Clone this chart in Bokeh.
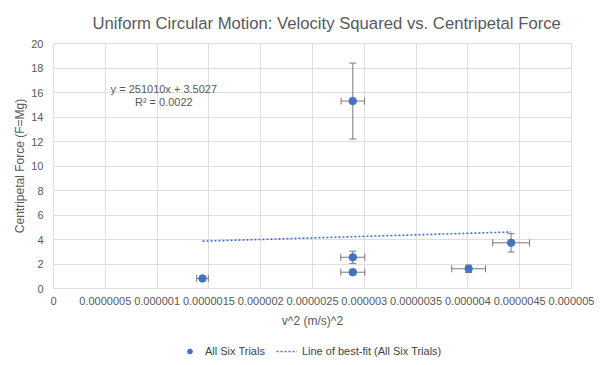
from bokeh.plotting import figure
from bokeh.layouts import column
from bokeh.models import (ColumnDataSource, Range1d, FixedTicker, CustomJSTickFormatter,
                          Whisker, TeeHead, Label, Legend, LegendItem)
from bokeh.embed import file_html
from bokeh.resources import INLINE

# ---------------- data ----------------
title_text = "Uniform Circular Motion: Velocity Squared vs. Centripetal Force"
x_label = "v^2 (m/s)^2"
y_label = "Centripetal Force (F=Mg)"

v_sq = [1.438e-6, 2.889e-6, 2.889e-6, 2.889e-6, 4.007e-6, 4.417e-6]
force = [0.82, 15.3, 2.55, 1.33, 1.61, 3.73]
v_sq_err = [0.056e-6, 0.113e-6, 0.116e-6, 0.116e-6, 0.163e-6, 0.178e-6]
force_err = [0.07, 3.1, 0.5, 0.18, 0.3, 0.75]

fit_slope = 251010
fit_intercept = 3.5027
fit_eq_text = "y = 251010x + 3.5027"
fit_r2_text = "R\u00b2 = 0.0022"

x_ticks = [0, 5e-7, 1e-6, 1.5e-6, 2e-6, 2.5e-6, 3e-6, 3.5e-6, 4e-6, 4.5e-6, 5e-6]
x_tick_labels = ["0", "0.0000005", "0.000001", "0.0000015", "0.000002", "0.0000025",
                 "0.000003", "0.0000035", "0.000004", "0.0000045", "0.000005"]
y_ticks = [0, 2, 4, 6, 8, 10, 12, 14, 16, 18, 20]

series_name = "All Six Trials"
fit_name = "Line of best-fit (All Six Trials)"

# ---------------- styling ----------------
FONT = "Liberation Sans"
TXT = "#595959"
BLUE = "#4472C4"
GRID = "#dedede"
ERR = "#7a7a7a"
DASH = "2 2"

src = ColumnDataSource(dict(
    x=v_sq, y=force,
    xl=[a - e for a, e in zip(v_sq, v_sq_err)], xu=[a + e for a, e in zip(v_sq, v_sq_err)],
    yl=[a - e for a, e in zip(force, force_err)], yu=[a + e for a, e in zip(force, force_err)],
))
x0, x1 = min(v_sq), max(v_sq)
fit_x = [x0, x1]
fit_y = [fit_slope * x0 + fit_intercept, fit_slope * x1 + fit_intercept]

p = figure(width=600, height=332, output_backend="svg", toolbar_location=None,
           x_range=Range1d(0, 5e-6), y_range=Range1d(0, 20),
           min_border_left=53, min_border_right=29, min_border_top=40, min_border_bottom=44)

p.title.text = title_text
p.title.text_font = FONT
p.title.text_font_size = "16.7px"
p.title.text_font_style = "normal"
p.title.text_color = TXT
p.title.align = "left"
p.title.offset = 39
p.title.standoff = 22

p.outline_line_color = GRID
p.background_fill_color = "white"
p.border_fill_color = "white"

for ax in (p.xaxis[0], p.yaxis[0]):
    ax.axis_line_color = None
    ax.major_tick_line_color = None
    ax.minor_tick_line_color = None
    ax.major_tick_out = 0
    ax.major_tick_in = 0
    ax.major_label_text_font = FONT
    ax.major_label_text_font_size = "11px"
    ax.major_label_text_color = TXT
    ax.axis_label_text_font = FONT
    ax.axis_label_text_font_size = "12px"
    ax.axis_label_text_font_style = "normal"
    ax.axis_label_text_color = TXT

p.xaxis[0].ticker = FixedTicker(ticks=x_ticks)
p.xaxis[0].formatter = CustomJSTickFormatter(
    args=dict(tvals=x_ticks, tlabels=x_tick_labels),
    code="""
    for (let i = 0; i < tvals.length; i++) {
        if (Math.abs(tvals[i] - tick) < 1e-12) return tlabels[i];
    }
    return "";
""")
p.xaxis[0].axis_label = x_label
p.xaxis[0].major_label_standoff = 8
p.xaxis[0].axis_label_standoff = 6

p.yaxis[0].ticker = FixedTicker(ticks=y_ticks)
p.yaxis[0].axis_label = y_label
p.yaxis[0].major_label_standoff = 10
p.yaxis[0].axis_label_standoff = 1

p.xgrid.grid_line_color = GRID
p.ygrid.grid_line_color = GRID
p.xgrid.ticker = FixedTicker(ticks=x_ticks)
p.ygrid.ticker = FixedTicker(ticks=y_ticks)

# error bars
p.add_layout(Whisker(source=src, base="x", lower="yl", upper="yu", dimension="height",
                     line_color=ERR, line_width=1,
                     lower_head=TeeHead(size=7, line_color=ERR, line_width=1),
                     upper_head=TeeHead(size=7, line_color=ERR, line_width=1)))
p.add_layout(Whisker(source=src, base="y", lower="xl", upper="xu", dimension="width",
                     line_color=ERR, line_width=1,
                     lower_head=TeeHead(size=7, line_color=ERR, line_width=1),
                     upper_head=TeeHead(size=7, line_color=ERR, line_width=1)))

# best-fit line across the data range
p.line(fit_x, fit_y, line_color=BLUE, line_width=1.6, line_dash=DASH)
p.scatter("x", "y", source=src, size=7.5, fill_color=BLUE, line_color=BLUE)

# equation labels
p.add_layout(Label(x=1.065e-6, y=16.29, text=fit_eq_text, text_font=FONT, text_font_size="11px",
                   text_color=TXT, text_align="center", text_baseline="middle"))
p.add_layout(Label(x=1.065e-6, y=15.22, text=fit_r2_text, text_font=FONT, text_font_size="11px",
                   text_color=TXT, text_align="center", text_baseline="middle"))

# legend strip below the chart (its series lie outside this strip's visible range)
q = figure(width=600, height=33, output_backend="svg", toolbar_location=None,
           x_range=Range1d(0, 5e-6), y_range=Range1d(100, 101),
           min_border_left=0, min_border_right=0, min_border_top=0, min_border_bottom=0)
q.axis.visible = False
q.grid.visible = False
q.outline_line_color = None
q.border_fill_color = "white"
q.background_fill_color = "white"
leg_pts = q.scatter(v_sq, force, size=7, fill_color=BLUE, line_color=BLUE)
leg_line = q.line(fit_x, fit_y, line_color=BLUE, line_width=1.6, line_dash=DASH)
legend = Legend(items=[LegendItem(label=series_name, renderers=[leg_pts]),
                       LegendItem(label=fit_name, renderers=[leg_line])],
                location=(126, 8), orientation="horizontal",
                padding=0, margin=0, spacing=11, glyph_width=21, glyph_height=12,
                label_height=12, label_standoff=5,
                label_text_font=FONT, label_text_font_size="11px", label_text_color="#444444",
                border_line_color=None, background_fill_alpha=0)
q.add_layout(legend, "center")

layout = column(p, q, spacing=0)
open("out.html", "w").write(file_html(layout, INLINE))
